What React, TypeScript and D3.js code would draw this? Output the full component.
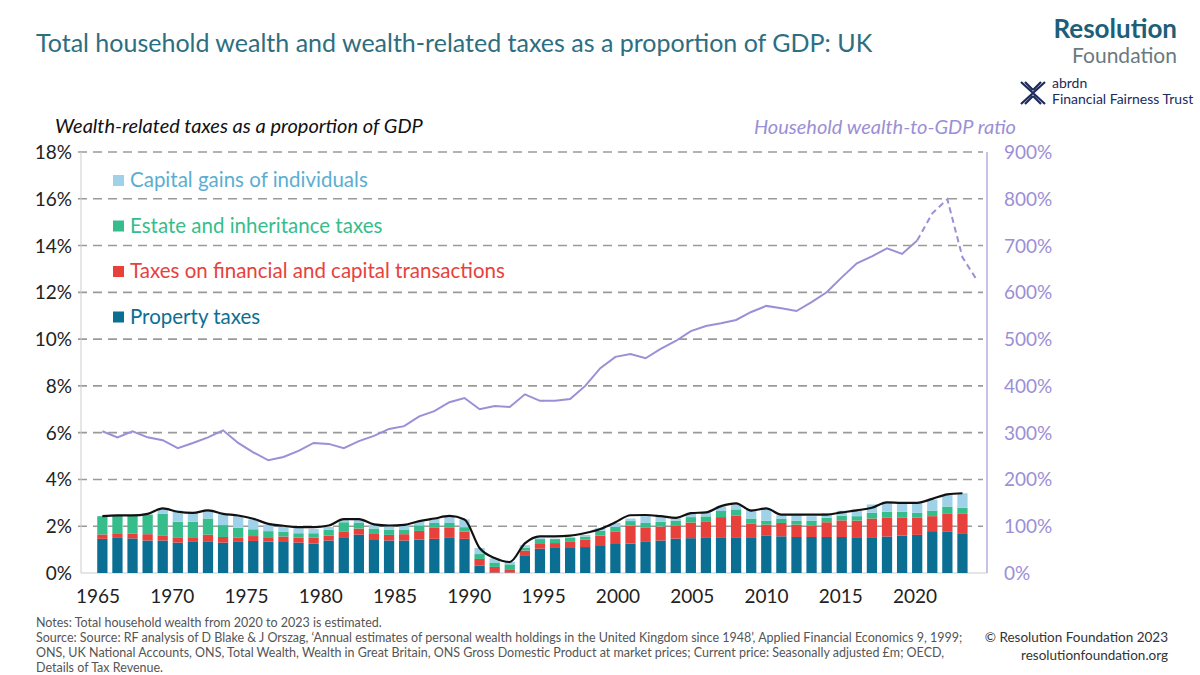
import * as d3 from "d3";
import React, { useEffect, useRef } from "react";

const years = d3.range(1965, 2023);
const property = [1.46,1.5,1.48,1.39,1.39,1.3,1.33,1.33,1.3,1.33,1.37,1.34,1.36,1.3,1.26,1.39,1.53,1.64,1.41,1.39,1.39,1.43,1.46,1.5,1.46,0.31,0.02,0.02,0.76,1.04,1.07,1.07,1.11,1.19,1.24,1.26,1.33,1.39,1.47,1.49,1.5,1.5,1.5,1.53,1.61,1.57,1.54,1.54,1.54,1.54,1.53,1.53,1.56,1.6,1.63,1.79,1.76,1.67];
const financial = [0.19,0.2,0.2,0.27,0.22,0.2,0.2,0.31,0.24,0.19,0.21,0.19,0.2,0.21,0.26,0.21,0.23,0.26,0.29,0.24,0.27,0.37,0.47,0.43,0.31,0.29,0.24,0.14,0.2,0.2,0.21,0.26,0.31,0.41,0.54,0.77,0.6,0.6,0.57,0.67,0.71,0.89,0.96,0.59,0.46,0.57,0.53,0.5,0.63,0.71,0.71,0.8,0.8,0.76,0.73,0.64,0.79,0.86];
const estate = [0.78,0.76,0.78,0.84,0.92,0.69,0.66,0.69,0.51,0.41,0.29,0.26,0.21,0.19,0.18,0.24,0.41,0.24,0.2,0.21,0.2,0.24,0.21,0.21,0.19,0.21,0.19,0.21,0.11,0.21,0.17,0.17,0.14,0.21,0.19,0.19,0.21,0.2,0.2,0.23,0.21,0.26,0.26,0.21,0.17,0.17,0.17,0.2,0.19,0.2,0.19,0.24,0.26,0.26,0.21,0.24,0.29,0.26];
const capitalGains = [0,0,0,0,0.23,0.48,0.4,0.38,0.47,0.5,0.42,0.28,0.22,0.23,0.19,0.13,0.12,0.15,0.17,0.16,0.18,0.15,0.21,0.33,0.33,0.26,0.18,0.11,0.12,0.04,0.02,0.04,0.07,0.12,0.17,0.11,0.29,0.2,0.09,0.16,0.19,0.19,0.21,0.39,0.51,0.16,0.23,0.19,0.2,0.21,0.28,0.36,0.43,0.39,0.43,0.47,0.5,0.62];
const totalLine = [2.43,2.46,2.46,2.53,2.76,2.62,2.57,2.68,2.53,2.46,2.32,2.1,2.02,1.96,1.96,2.03,2.3,2.3,2.08,2.03,2.06,2.22,2.33,2.44,2.29,1.07,0.64,0.47,1.27,1.57,1.57,1.6,1.71,1.88,2.17,2.47,2.48,2.43,2.36,2.56,2.59,2.86,2.98,2.67,2.76,2.5,2.5,2.5,2.5,2.59,2.68,2.79,3.02,3.0,3.0,3.17,3.36,3.41];

const wealthYears = d3.range(1965, 2024);
const wealth = [303,290,303,290,284,267,278,290,305,278,258,241,248,261,278,276,267,282,293,308,314,335,346,365,374,350,357,355,382,368,368,372,400,438,462,468,459,479,496,517,528,534,541,558,571,566,560,579,600,632,662,677,694,682,711,769,799,675,624];

const leftTicks = [0, 2, 4, 6, 8, 10, 12, 14, 16, 18];
const rightTicks = [0, 100, 200, 300, 400, 500, 600, 700, 800, 900];
const xTicks = [1965, 1970, 1975, 1980, 1985, 1990, 1995, 2000, 2005, 2010, 2015, 2020];

const seriesNames = ["Property taxes", "Taxes on financial and capital transactions", "Estate and inheritance taxes", "Capital gains of individuals"];
const seriesColors = ["#0b6f94", "#e8413c", "#36bd8c", "#9fd1e9"];
const legendText = ["#0b6f94", "#e8413c", "#36bd8c", "#5aaed3"];

const App: React.FC = () => {
  const ref = useRef<SVGSVGElement>(null);

  useEffect(() => {
    const svg = d3.select(ref.current);
    svg.selectAll("*").remove();
    const font = "Lato, 'Open Sans', sans-serif";
    svg.attr("font-family", font);

    const x = d3.scaleBand<number>().domain(wealthYears).range([92.4, 987.5]).padding(0.32);
    const xLabel = d3.scaleLinear().domain([1965, 2020]).range([98, 915]);
    const y = d3.scaleLinear().domain([0, 18]).range([573, 152]);
    const yR = d3.scaleLinear().domain([0, 900]).range([573, 152]);
    const cx = (yr: number) => x(yr)! + x.bandwidth() / 2;

    // title and branding
    svg.append("text").attr("x", 36).attr("y", 52).attr("font-size", 25).attr("fill", "#2d6e80")
      .text("Total household wealth and wealth-related taxes as a proportion of GDP: UK");
    svg.append("text").attr("x", 1177).attr("y", 38).attr("text-anchor", "end").attr("font-size", 26)
      .attr("font-weight", 700).attr("fill", "#1d5e78").text("Resolution");
    svg.append("text").attr("x", 1177).attr("y", 63).attr("text-anchor", "end").attr("font-size", 21)
      .attr("fill", "#6b7a80").text("Foundation");
    svg.append("text").attr("x", 1052).attr("y", 88).attr("font-size", 14).attr("fill", "#1c2a5c").text("abrdn");
    svg.append("text").attr("x", 1052).attr("y", 104).attr("font-size", 14).attr("fill", "#1c2a5c").text("Financial Fairness Trust");
    const logo = svg.append("g").attr("stroke", "#1c2a5c").attr("stroke-width", 2.2);
    logo.append("path").attr("d", "M1021,82 L1045,104 M1045,82 L1021,104 M1025,82 L1033,90 M1041,82 L1033,90 M1025,104 L1033,96 M1041,104 L1033,96");

    // grid
    svg.append("g").selectAll("line").data(leftTicks).join("line")
      .attr("x1", 78).attr("x2", 983).attr("y1", d => y(d)).attr("y2", d => y(d))
      .attr("stroke", d => (d === 0 ? "none" : "#9a9a9a")).attr("stroke-width", 1.6).attr("stroke-dasharray", "9,6");
    svg.append("line").attr("x1", 81).attr("x2", 81).attr("y1", 152).attr("y2", 573).attr("stroke", "#ccc");
    svg.append("line").attr("x1", 987).attr("x2", 987).attr("y1", 152).attr("y2", 573).attr("stroke", "#b7addf").attr("stroke-width", 1.5);
    svg.append("line").attr("x1", 81).attr("x2", 987).attr("y1", 573).attr("y2", 573).attr("stroke", "#ccc");

    // axes labels
    svg.append("g").selectAll("text").data(leftTicks).join("text")
      .attr("x", 72).attr("y", d => y(d) + 7).attr("text-anchor", "end").attr("font-size", 19).attr("fill", "#222")
      .text(d => d + "%");
    svg.append("g").selectAll("text").data(rightTicks).join("text")
      .attr("x", 1004).attr("y", d => yR(d) + 7).attr("font-size", 19).attr("fill", "#9b8fd6")
      .text(d => d + "%");
    svg.append("g").selectAll("text").data(xTicks).join("text")
      .attr("x", d => xLabel(d)).attr("y", 603).attr("text-anchor", "middle").attr("font-size", 19).attr("fill", "#222")
      .text(d => d);
    svg.append("text").attr("x", 55).attr("y", 133).attr("font-size", 20).attr("font-style", "italic").attr("fill", "#111")
      .text("Wealth-related taxes as a proportion of GDP");
    svg.append("text").attr("x", 1016).attr("y", 134).attr("text-anchor", "end").attr("font-size", 20).attr("font-style", "italic")
      .attr("fill", "#9b8fd6").text("Household wealth-to-GDP ratio");

    // stacked bars
    const rows = years.map((yr, i) => ({ year: yr, s0: property[i], s1: financial[i], s2: estate[i], s3: capitalGains[i] }));
    const stack = d3.stack<any>().keys(["s0", "s1", "s2", "s3"])(rows);
    svg.append("g").selectAll("g").data(stack).join("g").attr("fill", (_d, i) => seriesColors[i])
      .selectAll("rect").data(d => d).join("rect")
      .attr("x", d => x(d.data.year)!).attr("width", x.bandwidth())
      .attr("y", d => y(d[1])).attr("height", d => y(d[0]) - y(d[1]));

    // total line
    const tl = d3.line<number>().x((_d, i) => cx(years[i])).y(d => y(d)).curve(d3.curveMonotoneX);
    svg.append("path").attr("d", tl(totalLine)).attr("fill", "none").attr("stroke", "#111").attr("stroke-width", 2.2);

    // wealth line
    const wl = d3.line<number>().x((_d, i) => cx(wealthYears[i])).y(d => yR(d));
    const cut = wealthYears.indexOf(2019);
    svg.append("path").attr("d", wl(wealth.slice(0, cut + 1))).attr("fill", "none").attr("stroke", "#9b8fd6").attr("stroke-width", 2);
    const wl2 = d3.line<number>().x((_d, i) => cx(wealthYears[i + cut])).y(d => yR(d));
    svg.append("path").attr("d", wl2(wealth.slice(cut))).attr("fill", "none").attr("stroke", "#9b8fd6").attr("stroke-width", 2)
      .attr("stroke-dasharray", "6,4");

    // legend
    const lg = svg.append("g");
    [3, 2, 1, 0].forEach((k, j) => {
      const ly = 181 + j * 45.5;
      lg.append("rect").attr("x", 113).attr("y", ly - 6).attr("width", 11).attr("height", 11).attr("fill", seriesColors[k]);
      lg.append("text").attr("x", 130).attr("y", ly + 6).attr("font-size", 20.5).attr("fill", legendText[k]).text(seriesNames[k]);
    });

    // notes
    const notes = [
      "Notes: Total household wealth from 2020 to 2023 is estimated.",
      "Source: Source: RF analysis of D Blake & J Orszag, \u2018Annual estimates of personal wealth holdings in the United Kingdom since 1948\u2019, Applied Financial Economics 9, 1999;",
      "ONS, UK National Accounts, ONS, Total Wealth, Wealth in Great Britain, ONS Gross Domestic Product at market prices; Current price: Seasonally adjusted \u00a3m; OECD,",
      "Details of Tax Revenue.",
    ];
    svg.append("g").selectAll("text").data(notes).join("text")
      .attr("x", 36).attr("y", (_d, i) => 627 + i * 15).attr("font-size", 12.5).attr("fill", "#555").text(d => d);
    svg.append("text").attr("x", 1168).attr("y", 642).attr("text-anchor", "end").attr("font-size", 13.5).attr("fill", "#333")
      .text("\u00a9 Resolution Foundation 2023");
    svg.append("text").attr("x", 1168).attr("y", 660).attr("text-anchor", "end").attr("font-size", 13.5).attr("fill", "#333")
      .text("resolutionfoundation.org");
  }, []);

  return (
    <svg ref={ref} width={1200} height={675} style={{ position: "absolute", left: 0, top: 0, background: "#fff" }} />
  );
};

export default App;
